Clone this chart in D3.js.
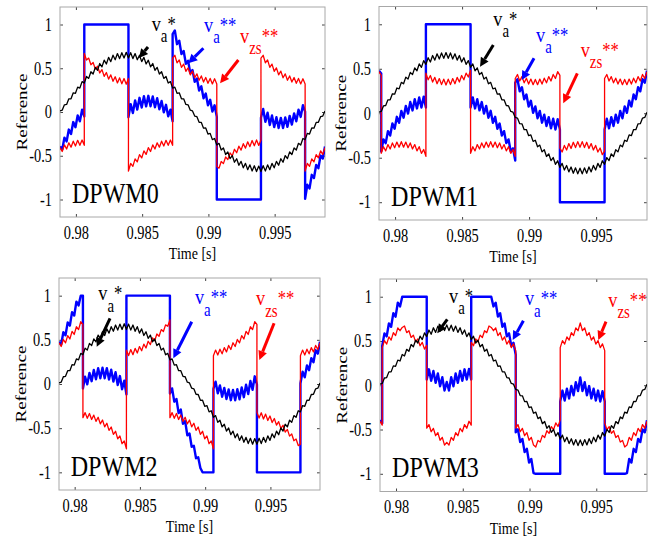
<!DOCTYPE html>
<html>
<head>
<meta charset="utf-8">
<script src="https://cdn.jsdelivr.net/npm/d3@7"></script>
<style>
  body { margin: 0; background: #fff; }
  svg text { font-family: "Liberation Serif", "Times New Roman", serif; }
</style>
</head>
<body>
<svg width="665" height="542"></svg>
<script>
// sample grid of the simulation (half switching period)
const timeStart = 0.9788, sampleStep = 1 / 6000;

const xTicks = [0.98, 0.985, 0.99, 0.995];
const yTicks = [-1, -0.5, 0, 0.5, 1];
const panelNames = ["DPWM0", "DPWM1", "DPWM2", "DPWM3"];

// v_a* (same reference in all four panels)
const refA = [0.012,0.021,0.082,0.087,0.151,0.151,0.219,0.214,0.284,0.274,
  0.347,0.331,0.406,0.384,0.460,0.434,0.510,0.477,0.554,0.516,
  0.592,0.549,0.624,0.576,0.649,0.597,0.668,0.610,0.678,0.617,
  0.682,0.617,0.678,0.610,0.668,0.597,0.649,0.576,0.624,0.549,
  0.592,0.516,0.554,0.477,0.510,0.434,0.460,0.384,0.406,0.331,
  0.347,0.274,0.284,0.214,0.219,0.151,0.151,0.087,0.082,0.021,
  0.012,-0.047,-0.054,-0.117,-0.119,-0.185,-0.183,-0.252,-0.244,-0.316,
  -0.303,-0.377,-0.358,-0.434,-0.410,-0.486,-0.456,-0.533,-0.498,-0.574,
  -0.534,-0.609,-0.564,-0.638,-0.587,-0.659,-0.604,-0.674,-0.614,-0.681,
  -0.618,-0.681,-0.614,-0.674,-0.604,-0.659,-0.587,-0.638,-0.564,-0.609,
  -0.534,-0.574,-0.498,-0.533,-0.456,-0.486,-0.410,-0.434,-0.358,-0.377,
  -0.303,-0.316,-0.244,-0.252,-0.183,-0.185,-0.119,-0.117,-0.054,-0.047,
  0.012];

// sample indices where the zero-sequence signal jumps
const edgesDPWM0 = [0, 11, 31, 51, 71, 91, 111, 120];
const edgesDPWM1 = [0, 1, 21, 41, 61, 81, 101, 120];
const edgesDPWM2 = [0, 11, 31, 51, 71, 91, 111, 120];
const edgesDPWM3 = [0, 1, 21, 41, 61, 81, 101, 120];

// v_zs** per segment
const zsDPWM0 = [
  [-0.407,-0.451,-0.376,-0.423,-0.352,-0.402,-0.334,-0.388,-0.324,-0.381,-0.320,-0.381],
  [0.669,0.594,0.616,0.540,0.566,0.490,0.523,0.446,0.484,0.408,0.451,0.376,0.424,0.351,0.403,0.332,0.390,0.322,0.383,0.318,0.383],
  [-0.676,-0.588,-0.621,-0.535,-0.570,-0.487,-0.525,-0.444,-0.485,-0.407,-0.451,-0.376,-0.423,-0.352,-0.402,-0.334,-0.388,-0.324,-0.381,-0.320,-0.381],
  [0.616,0.648,0.561,0.595,0.510,0.547,0.465,0.504,0.425,0.467,0.391,0.436,0.363,0.412,0.342,0.394,0.328,0.384,0.321,0.380,0.321],
  [-0.623,-0.642,-0.566,-0.590,-0.514,-0.544,-0.467,-0.502,-0.426,-0.466,-0.391,-0.436,-0.362,-0.413,-0.341,-0.396,-0.326,-0.386,-0.319,-0.382,-0.319],
  [0.616,0.648,0.561,0.595,0.510,0.547,0.465,0.504,0.425,0.467,0.391,0.436,0.363,0.412,0.342,0.394,0.328,0.384,0.321,0.380,0.321],
  [-0.676,-0.588,-0.621,-0.535,-0.570,-0.487,-0.525,-0.444,-0.485,-0.407]
];
// v_a** per segment
const vaDPWM0 = [
  [-0.395,-0.430,-0.294,-0.336,-0.201,-0.251,-0.115,-0.174,-0.040,-0.107,0.027,-0.050],
  [1,1,1,1,1,1,1,1,1,1,1,1,1,1,1,1,1,1,1,1,1],
  [-0.059,0.090,-0.011,0.133,0.027,0.162,0.051,0.180,0.064,0.185,0.065,0.178,0.054,0.158,0.032,0.126,-0.004,0.082,-0.050,0.027,-0.107],
  [0.890,0.932,0.775,0.814,0.661,0.698,0.552,0.586,0.446,0.479,0.344,0.382,0.246,0.293,0.157,0.211,0.076,0.140,0.005,0.077,-0.056],
  [-1,-1,-1,-1,-1,-1,-1,-1,-1,-1,-1,-1,-1,-1,-1,-1,-1,-1,-1,-1,-1],
  [-0.065,0.034,-0.113,-0.009,-0.149,-0.040,-0.173,-0.060,-0.184,-0.067,-0.183,-0.062,-0.170,-0.044,-0.144,-0.016,-0.106,0.026,-0.056,0.077,0.005],
  [-0.992,-0.832,-0.873,-0.718,-0.755,-0.606,-0.642,-0.498,-0.532,-0.395]
];

const zsDPWM1 = [
  [0.467,0.425],
  [-0.451,-0.376,-0.423,-0.352,-0.402,-0.334,-0.388,-0.324,-0.381,-0.320,-0.381,-0.324,-0.388,-0.334,-0.402,-0.352,-0.423,-0.376,-0.451,-0.407,-0.485],
  [0.451,0.376,0.424,0.351,0.403,0.332,0.390,0.322,0.383,0.318,0.383,0.322,0.390,0.332,0.403,0.351,0.424,0.376,0.451,0.408,0.484],
  [-0.451,-0.376,-0.423,-0.352,-0.402,-0.334,-0.388,-0.324,-0.381,-0.320,-0.381,-0.324,-0.388,-0.334,-0.402,-0.352,-0.423,-0.376,-0.451,-0.407,-0.485],
  [0.391,0.436,0.363,0.412,0.342,0.394,0.328,0.384,0.321,0.380,0.321,0.384,0.328,0.394,0.342,0.412,0.363,0.436,0.391,0.467,0.425],
  [-0.391,-0.436,-0.362,-0.413,-0.341,-0.396,-0.326,-0.386,-0.319,-0.382,-0.319,-0.386,-0.326,-0.396,-0.341,-0.413,-0.362,-0.436,-0.391,-0.466,-0.426],
  [0.391,0.436,0.363,0.412,0.342,0.394,0.328,0.384,0.321,0.380,0.321,0.384,0.328,0.394,0.342,0.412,0.363,0.436,0.391,0.467]
];
const vaDPWM1 = [
  [0.479,0.446],
  [-0.430,-0.294,-0.336,-0.201,-0.251,-0.115,-0.174,-0.040,-0.107,0.027,-0.050,0.082,-0.004,0.126,0.032,0.158,0.054,0.178,0.065,0.185,0.064],
  [1,1,1,1,1,1,1,1,1,1,1,1,1,1,1,1,1,1,1,1,1],
  [0.065,0.178,0.054,0.158,0.032,0.126,-0.004,0.082,-0.050,0.027,-0.107,-0.040,-0.174,-0.115,-0.251,-0.201,-0.336,-0.294,-0.430,-0.395,-0.532],
  [0.344,0.382,0.246,0.293,0.157,0.211,0.076,0.140,0.005,0.077,-0.056,0.026,-0.106,-0.016,-0.144,-0.044,-0.170,-0.062,-0.183,-0.067,-0.184],
  [-1,-1,-1,-1,-1,-1,-1,-1,-1,-1,-1,-1,-1,-1,-1,-1,-1,-1,-1,-1,-1],
  [-0.183,-0.062,-0.170,-0.044,-0.144,-0.016,-0.106,0.026,-0.056,0.077,0.005,0.140,0.076,0.211,0.157,0.293,0.246,0.382,0.344,0.479]
];

const zsDPWM2 = [
  [0.467,0.425,0.504,0.465,0.547,0.510,0.595,0.561,0.648,0.616,0.705,0.675],
  [-0.381,-0.324,-0.388,-0.334,-0.402,-0.352,-0.423,-0.376,-0.451,-0.407,-0.485,-0.444,-0.525,-0.487,-0.570,-0.535,-0.621,-0.588,-0.676,-0.645,-0.735],
  [0.383,0.322,0.390,0.332,0.403,0.351,0.424,0.376,0.451,0.408,0.484,0.446,0.523,0.490,0.566,0.540,0.616,0.594,0.669,0.653,0.726],
  [-0.381,-0.324,-0.388,-0.334,-0.402,-0.352,-0.423,-0.376,-0.451,-0.407,-0.485,-0.444,-0.525,-0.487,-0.570,-0.535,-0.621,-0.588,-0.676,-0.645,-0.735],
  [0.321,0.384,0.328,0.394,0.342,0.412,0.363,0.436,0.391,0.467,0.425,0.504,0.465,0.547,0.510,0.595,0.561,0.648,0.616,0.705,0.675],
  [-0.319,-0.386,-0.326,-0.396,-0.341,-0.413,-0.362,-0.436,-0.391,-0.466,-0.426,-0.502,-0.467,-0.544,-0.514,-0.590,-0.566,-0.642,-0.623,-0.697,-0.684],
  [0.321,0.384,0.328,0.394,0.342,0.412,0.363,0.436,0.391,0.467]
];
const vaDPWM2 = [
  [0.479,0.446,0.586,0.552,0.698,0.661,0.814,0.775,0.932,0.890,1,1],
  [-0.050,0.082,-0.004,0.126,0.032,0.158,0.054,0.178,0.065,0.185,0.064,0.180,0.051,0.162,0.027,0.133,-0.011,0.090,-0.059,0.037,-0.118],
  [1,1,1,1,1,1,1,1,1,1,1,1,1,1,1,1,1,1,1,1,1],
  [-0.107,-0.050,-0.200,-0.170,-0.330,-0.290,-0.450,-0.420,-0.580,-0.560,-0.710,-0.700,-0.840,-0.830,-0.950,-1,-1,-1,-1,-1,-1],
  [-0.056,0.026,-0.106,-0.016,-0.144,-0.044,-0.170,-0.062,-0.183,-0.067,-0.184,-0.060,-0.173,-0.040,-0.149,-0.009,-0.113,0.034,-0.065,0.087,-0.006],
  [-1,-1,-1,-1,-1,-1,-1,-1,-1,-1,-1,-1,-1,-1,-1,-1,-1,-1,-1,-1,-1],
  [0.005,0.140,0.076,0.211,0.157,0.293,0.246,0.382,0.344,0.479]
];

const zsDPWM3 = [
  [-0.407,-0.451],
  [0.425,0.504,0.465,0.547,0.510,0.595,0.561,0.648,0.616,0.653,0.669,0.594,0.616,0.540,0.566,0.490,0.523,0.446,0.484,0.408,0.451],
  [-0.485,-0.444,-0.525,-0.487,-0.570,-0.535,-0.621,-0.588,-0.676,-0.645,-0.676,-0.588,-0.621,-0.535,-0.570,-0.487,-0.525,-0.444,-0.485,-0.407,-0.451],
  [0.484,0.446,0.523,0.490,0.566,0.540,0.616,0.594,0.669,0.653,0.616,0.648,0.561,0.595,0.510,0.547,0.465,0.504,0.425,0.467,0.391],
  [-0.485,-0.444,-0.525,-0.487,-0.570,-0.535,-0.621,-0.588,-0.676,-0.697,-0.623,-0.642,-0.566,-0.590,-0.514,-0.544,-0.467,-0.502,-0.426,-0.466,-0.391],
  [0.425,0.504,0.465,0.547,0.510,0.595,0.561,0.648,0.616,0.705,0.616,0.648,0.561,0.595,0.510,0.547,0.465,0.504,0.425,0.467,0.391],
  [-0.426,-0.502,-0.467,-0.544,-0.514,-0.590,-0.566,-0.642,-0.623,-0.697,-0.676,-0.588,-0.621,-0.535,-0.570,-0.487,-0.525,-0.444,-0.485,-0.407]
];
const vaDPWM3 = [
  [-0.395,-0.430],
  [0.446,0.586,0.552,0.698,0.661,0.814,0.775,0.932,0.890,1,1,1,1,1,1,1,1,1,1,1,1],
  [0.064,0.180,0.051,0.162,0.027,0.133,-0.011,0.090,-0.059,0.037,-0.059,0.090,-0.011,0.133,0.027,0.162,0.051,0.180,0.064,0.185,0.065],
  [1,1,1,1,1,1,1,1,1,1,0.890,0.932,0.775,0.814,0.661,0.698,0.552,0.586,0.446,0.479,0.344],
  [-0.532,-0.498,-0.642,-0.606,-0.755,-0.718,-0.873,-0.832,-0.992,-1,-1,-1,-1,-1,-1,-1,-1,-1,-1,-1,-1],
  [-0.184,-0.060,-0.173,-0.040,-0.149,-0.009,-0.113,0.034,-0.065,0.087,-0.065,0.034,-0.113,-0.009,-0.149,-0.040,-0.173,-0.060,-0.184,-0.067,-0.183],
  [-1,-1,-1,-1,-1,-1,-1,-1,-1,-1,-0.992,-0.832,-0.873,-0.718,-0.755,-0.606,-0.642,-0.498,-0.532,-0.395]
];

// annotation anchors, in data units (time, value)
const notesDPWM0 = [
  { sub: "a", sup: "*", color: "#000", at: [0.98572, 0.929], arrow: [[0.98544, 0.743], [0.98476, 0.617]] },
  { sub: "a", sup: "**", color: "#00f", at: [0.98967, 0.918], arrow: [[0.98962, 0.728], [0.98848, 0.557]] },
  { sub: "zs", sup: "**", color: "#f00", at: [0.99239, 0.792], arrow: [[0.99226, 0.594], [0.99088, 0.328]] }
];
const notesDPWM1 = [
  { sub: "a", sup: "*", color: "#000", at: [0.98733, 0.981], arrow: [[0.98733, 0.767], [0.98634, 0.523]] },
  { sub: "a", sup: "**", color: "#00f", at: [0.99052, 0.804], arrow: [[0.99037, 0.618], [0.98945, 0.374]] },
  { sub: "zs", sup: "**", color: "#f00", at: [0.99385, 0.636], arrow: [[0.99360, 0.449], [0.99255, 0.112]] }
];
const notesDPWM2 = [
  { sub: "a", sup: "*", color: "#000", at: [0.98181, 0.951], arrow: [[0.98271, 0.744], [0.98169, 0.422]] },
  { sub: "a", sup: "**", color: "#00f", at: [0.98922, 0.902], arrow: [[0.98897, 0.705], [0.98756, 0.291]] },
  { sub: "zs", sup: "**", color: "#f00", at: [0.99390, 0.894], arrow: [[0.99528, 0.687], [0.99415, 0.272]] }
];
const notesDPWM3 = [
  { sub: "a", sup: "*", color: "#000", at: [0.98397, 0.932], arrow: [[0.98384, 0.745], [0.98309, 0.587]] },
  { sub: "a", sup: "**", color: "#00f", at: [0.98966, 0.906], arrow: [[0.98954, 0.729], [0.98874, 0.511]] },
  { sub: "zs", sup: "**", color: "#f00", at: [0.99590, 0.887], arrow: [[0.99573, 0.718], [0.99515, 0.511]] }
];

// plot boxes in pixels
const boxes = [
  { left: 60, top: 7, right: 325, bottom: 217 },
  { left: 379, top: 6.5, right: 647, bottom: 220 },
  { left: 59, top: 278, right: 320, bottom: 490 },
  { left: 380, top: 279, right: 647, bottom: 491.5 }
];

const panels = [
  { edges: edgesDPWM0, zs: zsDPWM0, va: vaDPWM0, notes: notesDPWM0 },
  { edges: edgesDPWM1, zs: zsDPWM1, va: vaDPWM1, notes: notesDPWM1 },
  { edges: edgesDPWM2, zs: zsDPWM2, va: vaDPWM2, notes: notesDPWM2 },
  { edges: edgesDPWM3, zs: zsDPWM3, va: vaDPWM3, notes: notesDPWM3 }
];

const svg = d3.select("svg");
const squeeze = "scale(0.8,1)";

const segPoints = (segs, edges) => segs.flatMap((seg, j) =>
  seg.map((v, i) => [timeStart + (edges[j] + i) * sampleStep, v]));
const flatPoints = vals => vals.map((v, i) => [timeStart + i * sampleStep, v]);

const drawArrow = (g, p0, p1, color) => {
  const dx = p1[0] - p0[0], dy = p1[1] - p0[1];
  const len = Math.hypot(dx, dy), ux = dx / len, uy = dy / len;
  const head = 9, half = 4.5;
  const bx = p1[0] - ux * head, by = p1[1] - uy * head;
  g.append("line")
   .attr("x1", p0[0]).attr("y1", p0[1])
   .attr("x2", bx).attr("y2", by)
   .attr("stroke", color).attr("stroke-width", 3);
  g.append("path")
   .attr("d", `M${p1[0]},${p1[1]}L${bx - uy * half},${by + ux * half}L${bx + uy * half},${by - ux * half}Z`)
   .attr("fill", color);
};

panels.forEach((p, idx) => {
  const b = boxes[idx];
  const x = d3.scaleLinear().domain([timeStart, timeStart + 120 * sampleStep]).range([b.left, b.right]);
  const y = d3.scaleLinear().domain([-1.2, 1.2]).range([b.bottom, b.top]);
  const g = svg.append("g");

  g.append("clipPath").attr("id", "clip" + idx)
   .append("rect")
   .attr("x", b.left).attr("y", b.top)
   .attr("width", b.right - b.left).attr("height", b.bottom - b.top);

  // axes (ticks inside, box on)
  const fmt = d => String(d);
  const axes = [
    [d3.axisBottom(x).tickValues(xTicks).tickFormat(fmt).tickPadding(9), `translate(0,${b.bottom})`],
    [d3.axisTop(x).tickValues(xTicks).tickFormat(""), `translate(0,${b.top})`],
    [d3.axisLeft(y).tickValues(yTicks).tickFormat(fmt).tickPadding(10), `translate(${b.left},0)`],
    [d3.axisRight(y).tickValues(yTicks).tickFormat(""), `translate(${b.right},0)`]
  ];
  axes.forEach(([ax, tr]) => {
    const a = g.append("g").attr("transform", tr)
      .call(ax.tickSizeInner(-3).tickSizeOuter(0));
    a.select(".domain").remove();
    a.selectAll(".tick line").attr("stroke", "#444");
    a.selectAll(".tick text")
     .attr("fill", "#000")
     .attr("transform", squeeze)
     .style("font-size", "18px")
     .style("font-family", '"Liberation Serif", serif');
  });

  g.append("rect")
   .attr("x", b.left).attr("y", b.top)
   .attr("width", b.right - b.left).attr("height", b.bottom - b.top)
   .attr("fill", "none").attr("stroke", "#a8a8a8");

  g.append("text")
   .attr("transform", `translate(${(b.left + b.right) / 2},${b.bottom + 42}) ${squeeze}`)
   .attr("text-anchor", "middle")
   .style("font-size", "17.5px")
   .text("Time [s]");

  g.append("text")
   .attr("transform", `translate(${b.left - 33},${y(0)}) ${squeeze} rotate(-90)`)
   .attr("text-anchor", "middle")
   .style("font-size", "19px")
   .text("Reference");

  const line = d3.line().x(d => x(d[0])).y(d => y(d[1]));
  const plot = g.append("g").attr("clip-path", `url(#clip${idx})`)
    .attr("fill", "none").attr("stroke-linejoin", "round");

  plot.append("path").attr("d", line(segPoints(p.va, p.edges)))
    .attr("stroke", "#0000ff").attr("stroke-width", 2.4);
  plot.append("path").attr("d", line(segPoints(p.zs, p.edges)))
    .attr("stroke", "#ff0000").attr("stroke-width", 1.3);
  plot.append("path").attr("d", line(flatPoints(refA)))
    .attr("stroke", "#000").attr("stroke-width", 1.3);

  // DPWM name
  g.append("text")
   .attr("transform", `translate(${x(0.9797)},${y(-1.04)}) scale(0.83,1)`)
   .style("font-size", "29px")
   .text(panelNames[idx]);

  // signal labels with arrows
  p.notes.forEach(n => {
    const t = g.append("text")
      .attr("transform", `translate(${x(n.at[0])},${y(n.at[1])}) scale(0.83,1)`)
      .attr("fill", n.color)
      .style("font-size", "22px");
    t.append("tspan").text("v");
    t.append("tspan").attr("dy", 11.5).style("font-size", "18px").text(n.sub);
    t.append("tspan").attr("dy", -11.5).style("font-size", "20px").text(n.sup);
    drawArrow(g,
      [x(n.arrow[0][0]), y(n.arrow[0][1])],
      [x(n.arrow[1][0]), y(n.arrow[1][1])],
      n.color);
  });
});
</script>
</body>
</html>
